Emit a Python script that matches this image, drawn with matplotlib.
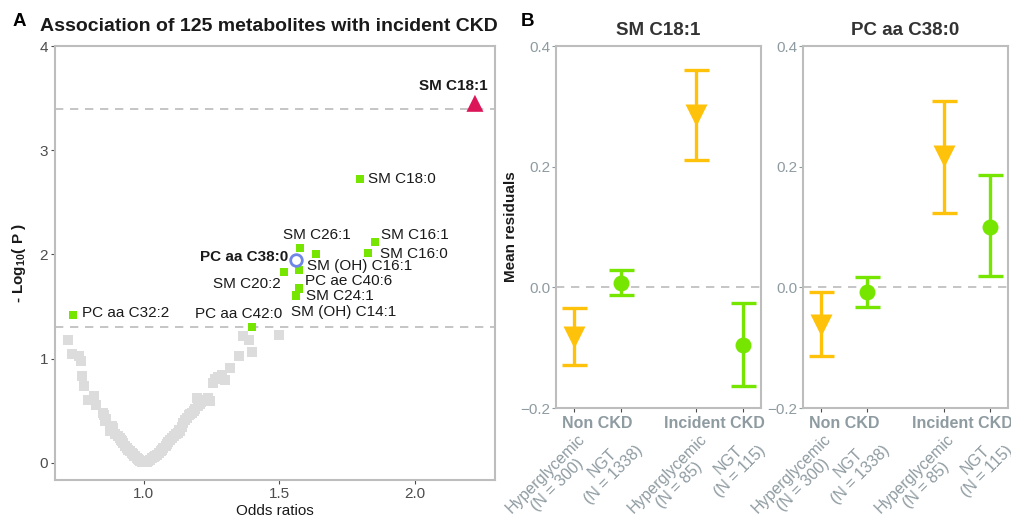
import matplotlib
matplotlib.use("Agg")
import matplotlib.pyplot as plt
from matplotlib.transforms import blended_transform_factory, offset_copy
import numpy as np

plt.rcParams['font.family'] = ['Liberation Sans', 'DejaVu Sans']

# ---------------- Panel A data ----------------
grey_or = [0.721, 0.733, 0.761, 0.768, 0.770, 0.779, 0.794, 0.815, 0.825, 0.848,
           0.852, 0.856, 0.860, 0.875, 0.881, 0.885, 0.905, 0.910, 0.918, 0.924,
           0.930, 0.942, 0.948, 0.955, 0.962, 0.967, 0.975, 0.982, 0.990, 0.997,
           0.994, 0.986, 0.978, 0.958, 0.936, 0.915, 0.895,
           1.003, 1.010, 1.015, 1.022, 1.030, 1.038, 1.047, 1.055, 1.062, 1.071,
           1.080, 1.090, 1.095, 1.102, 1.110, 1.118, 1.125, 1.133, 1.140, 1.145,
           1.151, 1.158, 1.165, 1.176, 1.183, 1.188, 1.194, 1.205, 1.212, 1.225,
           1.235, 1.244, 1.256, 1.262, 1.272, 1.287, 1.299, 1.317, 1.351, 1.364,
           1.389, 1.400, 1.499, 1.040, 1.068, 1.085, 1.128, 1.170, 1.200, 1.218]
grey_logp = [1.176, 1.048, 1.022, 0.974, 0.837, 0.734, 0.606, 0.644, 0.558, 0.480,
             0.462, 0.397, 0.420, 0.301, 0.349, 0.330, 0.253, 0.235, 0.205, 0.189,
             0.160, 0.125, 0.110, 0.090, 0.070, 0.061, 0.045, 0.030, 0.015, 0.007,
             0.010, 0.022, 0.040, 0.080, 0.145, 0.215, 0.280,
             0.004, 0.012, 0.020, 0.029, 0.045, 0.058, 0.077, 0.090, 0.110, 0.141,
             0.160, 0.200, 0.215, 0.237, 0.255, 0.280, 0.290, 0.301, 0.340, 0.380,
             0.413, 0.430, 0.455, 0.478, 0.500, 0.520, 0.622, 0.560, 0.580, 0.606,
             0.620, 0.590, 0.766, 0.800, 0.820, 0.846, 0.798, 0.911, 1.022, 1.221,
             1.183, 1.061, 1.231, 0.065, 0.125, 0.180, 0.310, 0.465, 0.545, 0.600]

green_names = ["SM C18:0", "SM C26:1", "SM C16:1", "SM C16:0", "SM (OH) C16:1",
               "PC ae C40:6", "SM C24:1", "SM (OH) C14:1", "SM C20:2",
               "PC aa C42:0", "PC aa C32:2"]
green_or = [1.797, 1.576, 1.852, 1.828, 1.634, 1.573, 1.573, 1.561, 1.517, 1.397, 0.739]
green_logp = [2.72, 2.064, 2.118, 2.01, 2.0, 1.849, 1.673, 1.606, 1.834, 1.305, 1.416]

tri_name, tri_or, tri_logp = "SM C18:1", 2.221, 3.45
circ_name, circ_or, circ_logp = "PC aa C38:0", 1.561, 1.95

thresholds = [-np.log10(0.05 / 125), -np.log10(0.05)]

# label offsets in pixels (dx, dy) and alignment
green_label_style = {
    "SM C18:0": (8, 0, 'left'),
    "SM C26:1": (17, 13, 'center'),
    "SM C16:1": (6, 7, 'left'),
    "SM C16:0": (12, -1, 'left'),
    "SM (OH) C16:1": (-9, -12, 'left'),
    "PC ae C40:6": (6, -11, 'left'),
    "SM C24:1": (7, -8, 'left'),
    "SM (OH) C14:1": (48, -17, 'center'),
    "SM C20:2": (-3, -12, 'right'),
    "PC aa C42:0": (-13, 13, 'center'),
    "PC aa C32:2": (9, 2, 'left'),
}

# ---------------- Panel B data ----------------
groups = ["Non CKD", "Incident CKD"]
subgroups = ["Hyperglycemic", "NGT"]
tick_labels = ["Hyperglycemic\n(N = 300)", "NGT\n(N = 1338)",
               "Hyperglycemic\n(N = 85)", "NGT\n(N = 115)"]
panel_titles = ["SM C18:1", "PC aa C38:0"]
# order: Hyper nonCKD, NGT nonCKD, Hyper CKD, NGT CKD
means = [[-0.083, 0.008, 0.286, -0.096],
         [-0.063, -0.008, 0.217, 0.100]]
upper = [[-0.035, 0.029, 0.360, -0.026],
         [-0.007, 0.017, 0.309, 0.186]]
lower = [[-0.129, -0.013, 0.211, -0.163],
         [-0.113, -0.033, 0.123, 0.018]]

GREEN = "#76E600"
YELLOW = "#FFC20A"
RED = "#DB1558"
BLUE = "#6F86E8"
GREY_PT = "#DCDCDC"
FRAME = "#BDBDBD"
DARK = "#1A1A1A"
TICKGREY = "#4D4D4D"
BGREY = "#8E9BA1"

W, H = 1011, 517
fig = plt.figure(figsize=(W / 100, H / 100), dpi=100)

def frac(l, t, r, b):
    return [l / W, 1 - b / H, (r - l) / W, (b - t) / H]

# ---------------- Panel A ----------------
axA = fig.add_axes(frac(55, 46, 495, 480))
axA.set_xlim(0.672, 2.295)
axA.set_ylim(-0.165, 4.0)
for th in thresholds:
    axA.axhline(th, color="#BBBBBB", lw=1.2, ls=(0, (5, 4)), zorder=1)
axA.scatter(grey_or, grey_logp, marker='s', s=52, color=GREY_PT, edgecolors='none', zorder=2)
axA.scatter(green_or, green_logp, marker='s', s=34, color=GREEN, edgecolors='none', zorder=3)
axA.scatter([tri_or], [tri_logp], marker='^', s=150, color=RED, edgecolors='none', zorder=4)
axA.scatter([circ_or], [circ_logp], marker='o', s=70, facecolors='white', edgecolors=BLUE,
            linewidths=2, zorder=4)

for name, x, y in zip(green_names, green_or, green_logp):
    dx, dy, ha = green_label_style[name]
    axA.annotate(name, (x, y), xytext=(dx, dy), textcoords='offset pixels',
                 ha=ha, va='center', fontsize=11, color=DARK, zorder=5)
axA.annotate(tri_name, (tri_or, tri_logp), xytext=(-22, 17), textcoords='offset pixels',
             ha='center', va='center', fontsize=11, fontweight='bold', color=DARK)
axA.annotate(circ_name, (circ_or, circ_logp), xytext=(-8, 3), textcoords='offset pixels',
             ha='right', va='center', fontsize=11, fontweight='bold', color=DARK)

axA.set_xticks([1.0, 1.5, 2.0])
axA.set_xticklabels(["1.0", "1.5", "2.0"])
axA.set_yticks([0, 1, 2, 3, 4])
axA.tick_params(colors=TICKGREY, labelsize=11, length=3, width=0.8, pad=2)
for sp in axA.spines.values():
    sp.set_color(FRAME)
    sp.set_linewidth(1.5)
axA.set_xlabel("Odds ratios", fontsize=11, color=DARK, labelpad=2)
axA.set_ylabel(r"- Log$_{\mathregular{10}}$( P )", fontsize=11, fontweight='bold', color=DARK, labelpad=8)
fig.text(268.5 / W, 1 - 27 / H, "Association of 125 metabolites with incident CKD",
         fontsize=14, fontweight='bold', color=DARK, ha='center', va='center')
fig.text(13 / W, 1 - 22 / H, "A", fontsize=13.5, fontweight='bold', va='center', ha='left')
fig.text(521 / W, 1 - 21 / H, "B", fontsize=13.5, fontweight='bold', va='center', ha='left')

# ---------------- Panel B ----------------
dodge = 0.19
xpos = [1 - dodge, 1 + dodge, 2 - dodge, 2 + dodge]
colors = [YELLOW, GREEN, YELLOW, GREEN]
markers = ['v', 'o', 'v', 'o']
msizes = [16, 11.5, 16, 11.5]
boxes = [(556, 46, 761, 408), (802.7, 46, 1008.3, 408)]

for k in range(2):
    ax = fig.add_axes(frac(*boxes[k]))
    ax.set_xlim(0.663, 2.337)
    ax.set_ylim(-0.2, 0.4)
    ax.axhline(0, color="#BBBBBB", lw=1.2, ls=(0, (5, 4)), zorder=1)
    for i in range(4):
        m = means[k][i]
        ax.errorbar(xpos[i], m, yerr=[[m - lower[k][i]], [upper[k][i] - m]],
                    fmt='none', ecolor=colors[i], elinewidth=2.4, capsize=9,
                    capthick=2.4, zorder=2)
        ax.plot(xpos[i], m, marker=markers[i], ms=msizes[i], color=colors[i],
                mec='none', zorder=3)
    ax.set_yticks([-0.2, 0.0, 0.2, 0.4])
    ax.set_yticklabels(["\u22120.2", "0.0", "0.2", "0.4"])
    ax.set_xticks(xpos)
    ax.set_xticklabels([])
    ax.tick_params(axis='y', colors=BGREY, labelsize=11, length=3, width=0.8, pad=1)
    ax.tick_params(axis='x', colors=TICKGREY, length=3, width=0.8)
    for sp in ax.spines.values():
        sp.set_color(FRAME)
        sp.set_linewidth(1.5)
    ax.set_title(panel_titles[k], fontsize=13.5, fontweight='bold', color="#333333", pad=8)
    trans = blended_transform_factory(ax.transData, ax.transAxes)
    for g, gx in zip(groups, [1.0, 1.96]):
        ax.text(gx, 0, g, transform=offset_copy(trans, fig=fig, x=0, y=-15, units='dots'),
                ha='center', va='center', fontsize=11.5, fontweight='bold', color=BGREY)
    for i in range(4):
        ax.text(xpos[i], 0, tick_labels[i],
                transform=offset_copy(trans, fig=fig, x=3, y=-23, units='dots'),
                ha='right', va='top', rotation=45, rotation_mode='anchor',
                multialignment='center', fontsize=11.5, color=BGREY, linespacing=1.15)
    if k == 0:
        ax.set_ylabel("Mean residuals", fontsize=11, fontweight='bold', color=DARK, labelpad=2)

fig.savefig("out.png", dpi=100)
